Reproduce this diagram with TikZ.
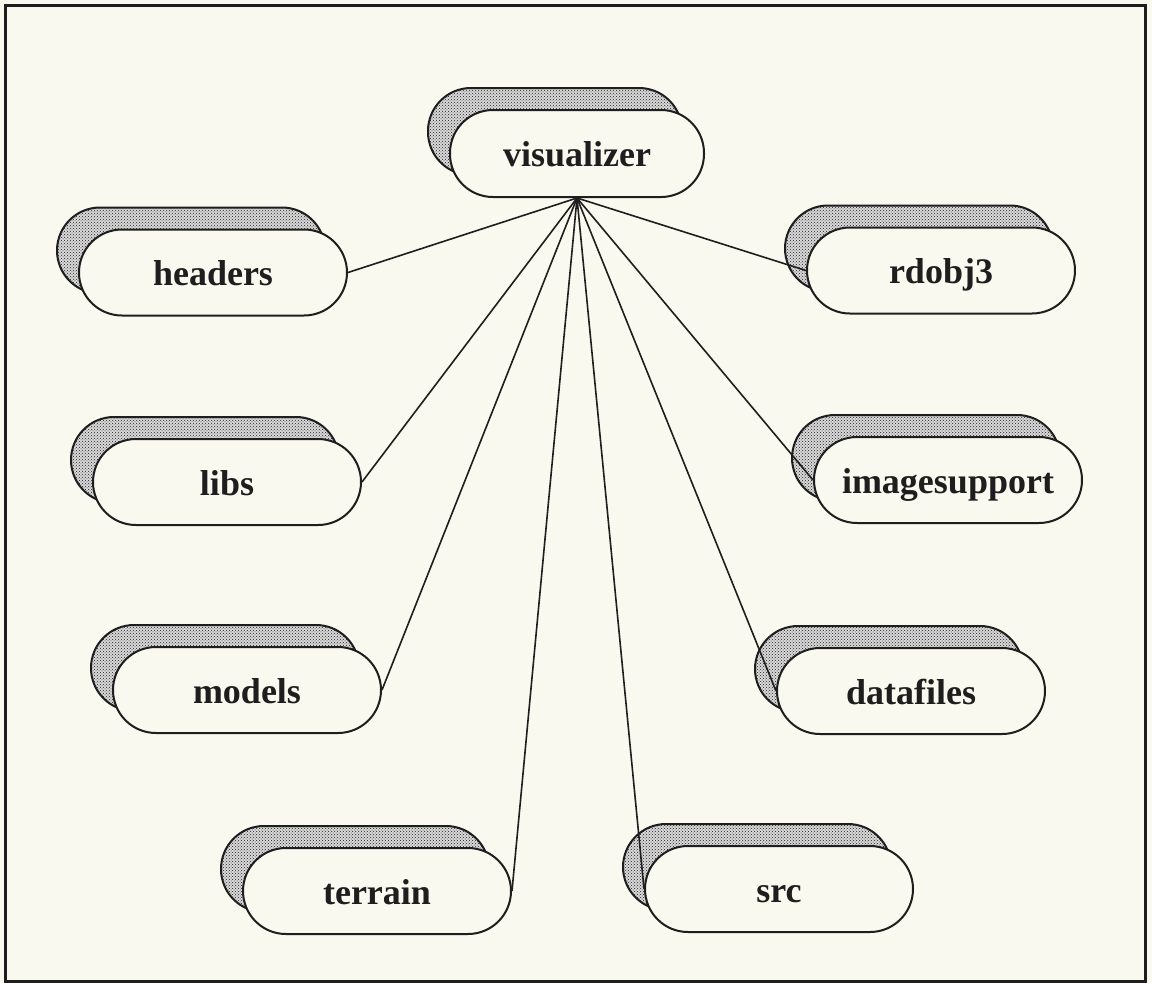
\documentclass[tikz,border=0pt]{standalone}
\usepackage{fontspec}
\setmainfont{Liberation Serif}
\usetikzlibrary{shadows,patterns}

\definecolor{paper}{RGB}{249,249,240}
\definecolor{ink}{RGB}{30,30,30}

\tikzset{
  dirbox/.style={
    draw=ink, line width=2pt, fill=paper,
    rectangle, rounded corners=43pt,
    minimum width=268pt, minimum height=86pt,
    inner sep=0pt, text=ink,
    text height=30pt, text depth=4pt,
    font=\fontsize{36}{40}\selectfont\bfseries,
    copy shadow={shadow xshift=-22pt, shadow yshift=22pt,
                 draw=ink, line width=2pt, fill=gray!30,
                 postaction={pattern=crosshatch dots, pattern color=ink}}
  },
  link/.style={draw=ink, line width=1.6pt}
}

\begin{document}
\begin{tikzpicture}[x=1pt, y=-1pt]
  % page and frame
  \fill[paper] (0,0) rectangle (1152,983);
  \useasboundingbox (0,0) rectangle (1152,983);
  \draw[ink, line width=3pt] (5,5) rectangle (1145,981);

  % directories
  \node[dirbox, minimum width=254pt, minimum height=87pt] (visualizer) at (577,153.5) {visualizer};
  \node[dirbox] (headers)      at (213,272.5) {headers};
  \node[dirbox] (rdobj3)       at (941,270.5) {rdobj3};
  \node[dirbox] (libs)         at (227,482)   {libs};
  \node[dirbox] (imagesupport) at (948,480)   {imagesupport};
  \node[dirbox] (models)       at (247,690)   {models};
  \node[dirbox] (datafiles)    at (911,691)   {datafiles};
  \node[dirbox] (terrain)      at (377,891)   {terrain};
  \node[dirbox] (src)          at (779,889)   {src};

  % links fan out from the bottom of the top directory
  \coordinate (hub) at (visualizer.south);
  \draw[link] (hub) -- (headers.east);
  \draw[link] (hub) -- (libs.east);
  \draw[link] (hub) -- (models.east);
  \draw[link] (hub) -- (terrain.east);
  \draw[link] (hub) -- (src.west);
  \draw[link] (hub) -- (datafiles.west);
  \draw[link] (hub) -- (imagesupport.west);
  \draw[link] (hub) -- (rdobj3.west);
\end{tikzpicture}
\end{document}
